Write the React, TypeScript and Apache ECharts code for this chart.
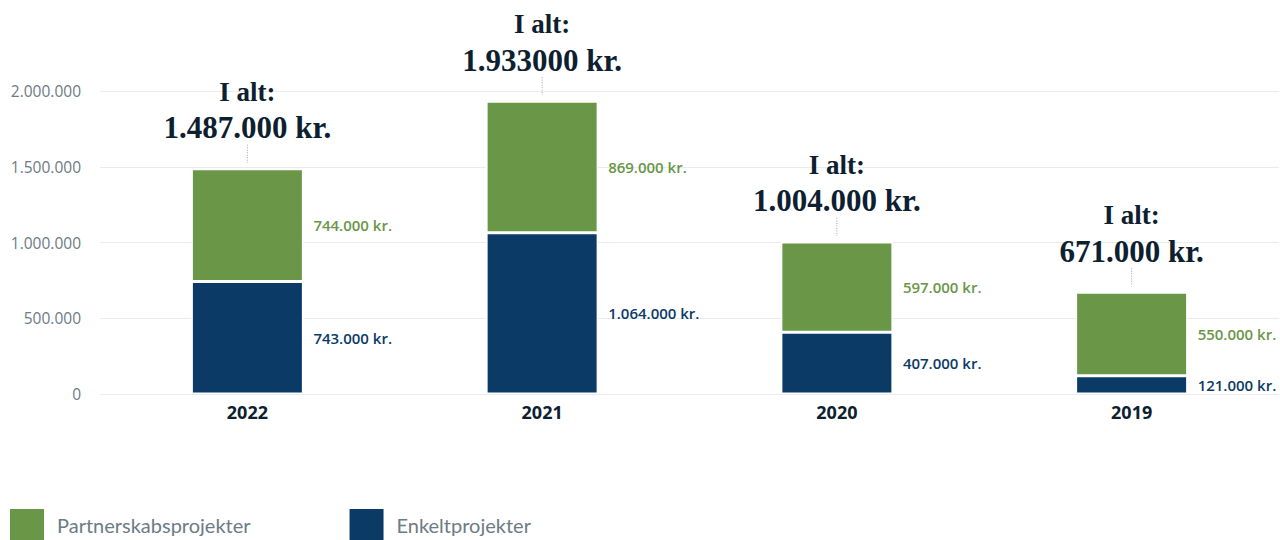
import React, { useEffect, useRef } from "react";
import * as echarts from "echarts";

const years = ["2022", "2021", "2020", "2019"];
const partnerskab = [744000, 869000, 597000, 550000];
const enkelt = [743000, 1064000, 407000, 121000];
const totals = [1487000, 1933000, 1004000, 671000];
const totalLabels = ["1.487.000 kr.", "1.933000 kr.", "1.004.000 kr.", "671.000 kr."];
const yTicks = [0, 500000, 1000000, 1500000, 2000000];

const GREEN = "#6a9648";
const NAVY = "#0b3a66";
const DARK = "#0d2030";
const GRAY = "#6d7b84";

const fmt = (v: number) => String(v).replace(/\B(?=(\d{3})+(?!\d))/g, ".");

export default function App() {
  const ref = useRef<HTMLDivElement>(null);
  useEffect(() => {
    if (!ref.current) return;
    const chart = echarts.init(ref.current, undefined, { renderer: "svg" });
    const segLabel = (color: string) => ({
      show: true,
      position: "right",
      distance: 10,
      color,
      fontFamily: "Open Sans",
      fontSize: 15,
      fontWeight: 600,
      formatter: (p: any) => fmt(p.value) + " kr.",
    });
    chart.setOption({
      animation: false,
      grid: { left: 100, right: 1, top: 91, bottom: 146, containLabel: false },
      legend: {
        data: ["Partnerskabsprojekter", "Enkeltprojekter"],
        left: 8,
        top: 507,
        padding: 0,
        itemWidth: 36,
        itemHeight: 33,
        itemGap: 97,
        icon: "rect",
        textStyle: { color: GRAY, fontSize: 20, fontFamily: "Lato", padding: [0, 0, 0, 7] },
      },
      xAxis: {
        type: "category",
        data: years,
        axisLine: { show: false },
        axisTick: { show: false },
        axisLabel: { color: DARK, fontWeight: "bold", fontSize: 18, fontFamily: "Open Sans", margin: 9 },
      },
      yAxis: {
        type: "value",
        min: yTicks[0],
        max: yTicks[yTicks.length - 1],
        interval: 500000,
        axisLabel: {
          color: GRAY,
          fontSize: 15.5,
          fontFamily: "Open Sans",
          margin: 19,
          formatter: (v: number) => fmt(v),
        },
        splitLine: { lineStyle: { color: "#e9ebec", width: 1 } },
      },
      series: [
        {
          name: "Enkeltprojekter",
          type: "bar",
          stack: "total",
          data: enkelt,
          barWidth: 112,
          itemStyle: { color: NAVY, borderColor: "#ffffff", borderWidth: 1.5 },
          label: segLabel(NAVY),
        },
        {
          name: "Partnerskabsprojekter",
          type: "bar",
          stack: "total",
          data: partnerskab,
          barWidth: 112,
          itemStyle: { color: GREEN, borderColor: "#ffffff", borderWidth: 1.5 },
          label: segLabel(GREEN),
        },
        {
          name: "I alt",
          type: "custom",
          data: totals.map((t, i) => [i, t]),
          clip: false,
          z: 10,
          renderItem: (params: any, api: any) => {
            const i = api.value(0);
            const pt = api.coord([i, api.value(1)]);
            const x = pt[0];
            const top = pt[1];
            return {
              type: "group",
              children: [
                {
                  type: "line",
                  shape: { x1: x, y1: top - 24, x2: x, y2: top - 6 },
                  style: { stroke: "#9aa3a8", lineWidth: 1, lineDash: [1, 1.5] },
                },
                {
                  type: "text",
                  x,
                  y: top - 41,
                  style: {
                    text: totalLabels[params.dataIndex],
                    fill: DARK,
                    font: "bold 31px 'Liberation Serif', serif",
                    align: "center",
                    verticalAlign: "middle",
                  },
                },
                {
                  type: "text",
                  x,
                  y: top - 77,
                  style: {
                    text: "I alt:",
                    fill: DARK,
                    font: "bold 27px 'Liberation Serif', serif",
                    align: "center",
                    verticalAlign: "middle",
                  },
                },
              ],
            };
          },
        },
      ],
    });
    return () => chart.dispose();
  }, []);
  return (
    <div
      ref={ref}
      style={{ position: "absolute", left: 0, top: 0, width: 1280, height: 540 }}
    />
  );
}
